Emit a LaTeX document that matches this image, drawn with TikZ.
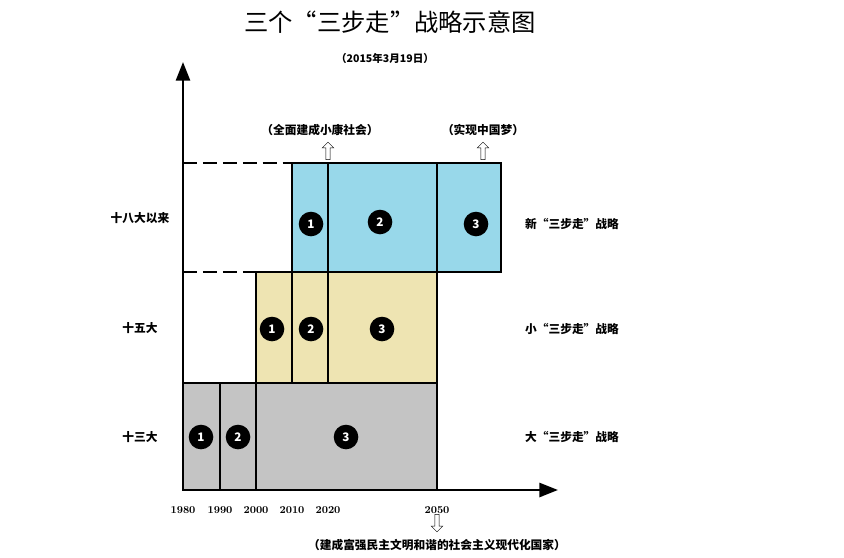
\documentclass[tikz,border=0pt]{standalone}
\usepackage{fontspec}
\newfontfamily\cjk{Noto Sans CJK SC}
\usetikzlibrary{arrows.meta,shapes.arrows}
\definecolor{newblue}{RGB}{152,216,234}
\definecolor{smallyel}{RGB}{238,228,178}
\definecolor{biggray}{RGB}{196,196,196}
\tikzset{
  band/.style={draw,line width=1.2pt},
  num/.style={circle,fill=black,text=white,inner sep=0pt,minimum size=21pt,font=\cjk\bfseries\normalsize},
  lab/.style={font=\cjk\bfseries\normalsize},
  yr/.style={font=\bfseries\small},
  hollow/.style={single arrow,draw,fill=white,shape border rotate=90,minimum height=15pt,minimum width=10pt,single arrow head extend=2pt,inner sep=1pt},
  dashline/.style={line width=1.8pt,dash pattern=on 12pt off 5pt}
}
\begin{document}
\begin{tikzpicture}[x=0.03cm,y=-0.03cm]
    \path[use as bounding box] (0,0) rectangle (844,557);

    % title
    \node[font=\cjk\huge] (title) at (390,22) {三个“三步走”战略示意图};
    \node[font=\cjk\bfseries\small] (date) at (385,58) {（2015年3月19日）};

    % bands
    \draw[band,fill=biggray] (183,383) rectangle (437,490);
    \draw[band] (220,383) -- (220,490);
    \draw[band] (256,383) -- (256,490);
    \draw[band,fill=smallyel] (256,272) rectangle (437,383);
    \draw[band] (292,272) -- (292,383);
    \draw[band] (328,272) -- (328,383);
    \draw[band,fill=newblue] (292,163) rectangle (501,272);
    \draw[band] (328,163) -- (328,272);
    \draw[band] (437,163) -- (437,272);

    \draw[dashline] (183,163) -- (292,163);
    \draw[dashline] (183,272) -- (292,272);
    \draw[dashline] (183,383) -- (256,383);

    % axes
    \coordinate (O) at (183,490);
    \coordinate (ytop) at (183,62);
    \coordinate (xend) at (558,490);
    \draw[line width=2.4pt,-{Triangle[length=16pt,width=12pt]}] (O) -- (ytop);
    \draw[line width=2.4pt,-{Triangle[length=16pt,width=12pt]}] (O) -- (xend);

    % numbered steps
    \node[num] (b1) at (201,437) {1};
    \node[num] (b2) at (238,437) {2};
    \node[num] (b3) at (346,437) {3};
    \node[num] (s1) at (272,329) {1};
    \node[num] (s2) at (311,329) {2};
    \node[num] (s3) at (382,329) {3};
    \node[num] (n1) at (311,224) {1};
    \node[num] (n2) at (380,222) {2};
    \node[num] (n3) at (476,224) {3};

    % left and right labels
    \node[lab] (l18) at (140,218) {十八大以来};
    \node[lab] (l15) at (140,328) {十五大};
    \node[lab] (l13) at (140,437) {十三大};
    \node[lab] (r18) at (572,224) {新“三步走”战略};
    \node[lab] (r15) at (572,329) {小“三步走”战略};
    \node[lab] (r13) at (572,437) {大“三步走”战略};

    % years
    \foreach \x/\y in {183/1980,220/1990,256/2000,292/2010,328/2020,437/2050}
        \node[yr] (y\y) at (\x,510) {\y};

    % goals
    \node[hollow] (a1) at (328,152) {};
    \node[hollow] (a2) at (483,152) {};
    \node[hollow,shape border rotate=270] (a3) at (437,522) {};
    \node[lab] (g1) at (320,130) {（全面建成小康社会）};
    \node[lab] (g2) at (483,130) {（实现中国梦）};
    \node[lab] (g3) at (437,545) {（建成富强民主文明和谐的社会主义现代化国家）};
\end{tikzpicture}
\end{document}
